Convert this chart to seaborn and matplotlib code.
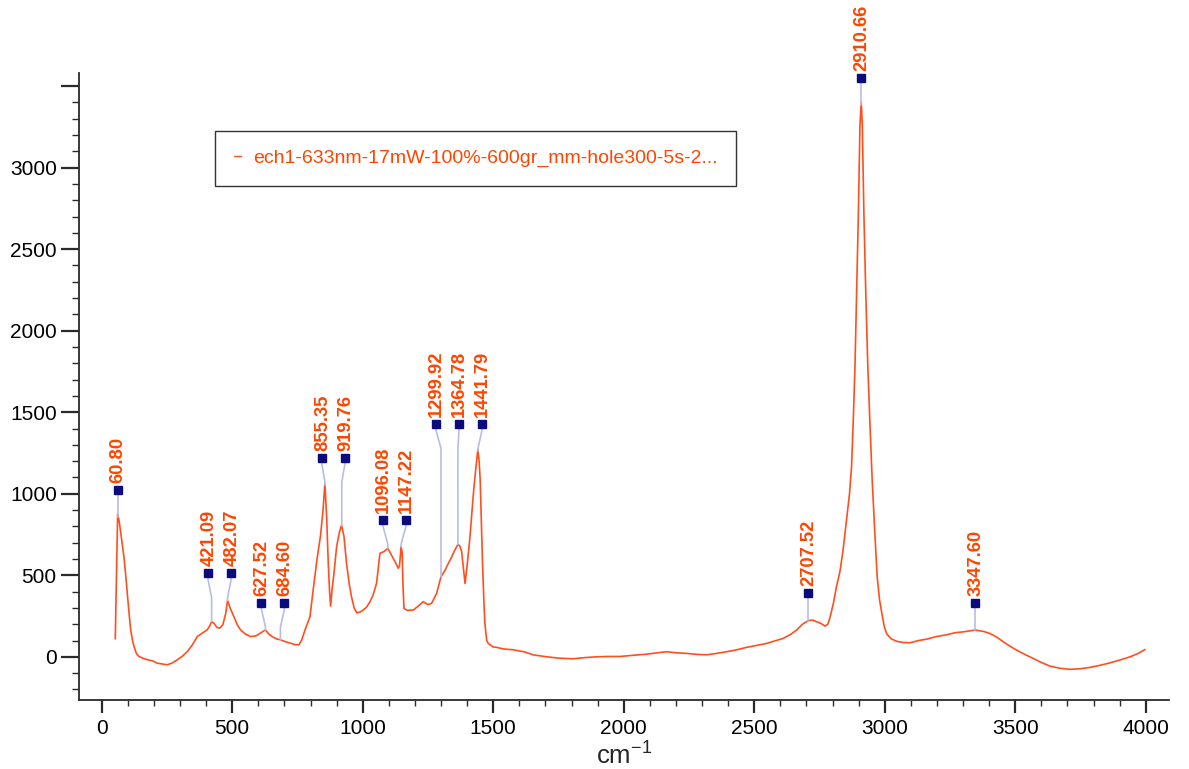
import numpy as np
import pandas as pd
import matplotlib
matplotlib.use("Agg")
import matplotlib.pyplot as plt
import seaborn as sns
from matplotlib import font_manager
from matplotlib.ticker import MultipleLocator, FixedLocator

# ---------------- data ----------------
wavenumber = [52, 61, 66, 73, 85, 92, 98, 104, 111, 118, 124, 133, 143, 160, 175, 195,
              213, 235, 251, 270, 290, 310, 328, 348, 366, 385, 404, 414, 421, 430,
              442, 452, 464, 475, 482, 492, 506, 520, 532, 550, 570, 590, 608, 627,
              640, 653, 670, 685, 705, 723, 740, 755, 766, 778, 787, 798, 810, 825,
              838, 848, 855, 862, 868, 873, 877, 883, 889, 900, 910, 919, 928, 938,
              948, 957, 967, 977, 990, 1002, 1015, 1028, 1040, 1053, 1066, 1081,
              1096, 1105, 1117, 1128, 1136, 1141, 1147, 1151, 1154, 1158, 1170, 1194,
              1212, 1232, 1250, 1264, 1283, 1300, 1315, 1328, 1340, 1353, 1365, 1372,
              1379, 1386, 1392, 1400, 1411, 1423, 1431, 1441, 1446, 1450, 1455, 1459,
              1464, 1468, 1475, 1481, 1500, 1513, 1540, 1577, 1620, 1653, 1705, 1750,
              1806, 1850, 1896, 1940, 1985, 2040, 2088, 2130, 2164, 2200, 2241, 2280,
              2318, 2360, 2394, 2430, 2471, 2510, 2547, 2580, 2611, 2640, 2662, 2685,
              2707, 2725, 2739, 2755, 2771, 2782, 2790, 2803, 2815, 2828, 2840, 2854,
              2865, 2873, 2880, 2886, 2893, 2899, 2905, 2910, 2914, 2920, 2927, 2935,
              2944, 2952, 2962, 2971, 2980, 2990, 2999, 3008, 3025, 3046, 3070, 3097,
              3130, 3160, 3200, 3237, 3270, 3301, 3347, 3380, 3403, 3430, 3454, 3480,
              3505, 3540, 3569, 3600, 3633, 3670, 3710, 3750, 3786, 3825, 3863, 3900,
              3940, 3970, 3997]
intensity = [110, 875, 840, 760, 615, 500, 390, 280, 165, 100, 63, 20, 2, -10, -18, -25,
             -39, -45, -49, -38, -18, 5, 32, 75, 124, 145, 165, 190, 216, 205,
             180, 176, 196, 265, 345, 300, 247, 195, 165, 140, 124, 128, 145, 165,
             140, 124, 110, 104, 92, 84, 75, 73, 102, 160, 200, 246, 409, 600,
             740, 900, 1064, 850, 573, 400, 311, 420, 500, 675, 760, 808, 740, 573,
             450, 368, 300, 270, 275, 287, 305, 338, 380, 451, 635, 645,
             665, 640, 604, 570, 543, 560, 675, 640, 450, 297, 285, 287,
             310, 338, 320, 328, 389, 491, 530, 573, 610, 655, 690, 680,
             645, 540, 450, 560, 737, 982, 1120, 1272, 1200, 1085, 800, 573,
             350, 205, 100, 82, 60, 58, 48, 43, 30, 12, 0, -8,
             -12, -5, 0, 2, 2, 10, 16, 25, 31, 25, 21, 15,
             12, 22, 31, 42, 58, 70, 82, 98, 113, 138, 164, 200,
             222, 225, 215, 205, 188, 200, 240, 327, 430, 520, 650, 844,
             1000, 1173, 1480, 1785, 2300, 2724, 3260, 3405, 3260, 2724, 2250, 1785,
             1400, 1078, 760, 491, 350, 256, 180, 139, 110, 95, 88, 86,
             100, 108, 125, 135, 148, 153, 164, 155, 143, 120, 92, 65,
             41, 12, -10, -35, -57, -70, -77, -73, -65, -52, -37, -20,
             0, 20, 45]

peak_positions = [60.80, 421.09, 482.07, 627.52, 684.60, 855.35, 919.76, 1096.08,
                  1147.22, 1299.92, 1364.78, 1441.79, 2707.52, 2910.66, 3347.60]
peak_groups = [0, 1, 1, 2, 2, 3, 3, 4, 4, 5, 5, 5, 6, 7, 8]

series_name = "ech1-633nm-17mW-100%-600gr_mm-hole300-5s-2..."
x_ticks = [0, 500, 1000, 1500, 2000, 2500, 3000, 3500, 4000]
y_ticks = [0, 500, 1000, 1500, 2000, 2500, 3000, 3500]
y_tick_labels = ["0", "500", "1000", "1500", "2000", "2500", "3000", ""]
x_label = "cm$^{-1}$"

# ---------------- style ----------------
sns.set_style("ticks")
plt.rcParams["font.family"] = ["Liberation Sans", "DejaVu Sans"]
plt.rcParams["mathtext.default"] = "regular"

try:
    font_manager.findfont(font_manager.FontProperties(family="Liberation Sans Narrow",
                                                      weight="bold"),
                          fallback_to_default=False)
    PEAK_FAMILY, PEAK_SIZE = ["Liberation Sans Narrow", "Liberation Sans"], 14
except Exception:
    PEAK_FAMILY, PEAK_SIZE = ["Liberation Sans", "DejaVu Sans"], 13.2

LINE_COLOR = "#ff4f1f"
TEXT_COLOR = "#ff4500"
CONN_COLOR = "#b9bde2"
MARK_COLOR = "#0b0b7e"
AXIS_COLOR = "#2a2a2a"

fig = plt.figure(figsize=(11.89, 7.69), dpi=100)
ax = fig.add_axes([79 / 1189, 0.0897, (1169 - 79) / 1189, 0.905 - 0.0897])

df = pd.DataFrame({"wavenumber": wavenumber, "intensity": intensity})
df["series"] = series_name
sns.lineplot(data=df, x="wavenumber", y="intensity", hue="series",
             palette=[LINE_COLOR], sort=False, estimator=None,
             linewidth=1.2, ax=ax)

ax.set_xlim(-87, 4089)
ax.set_ylim(-265, 3580)

# ---------------- peak annotations ----------------
peak_vals = np.interp(peak_positions, wavenumber, intensity)
groups = {}
for i, g in enumerate(peak_groups):
    groups.setdefault(g, []).append(i)
SPACING = 88
for g, idx in groups.items():
    center = np.mean([peak_positions[i] for i in idx])
    top = max(peak_vals[i] for i in idx)
    ly = top + 168
    n = len(idx)
    for k, i in enumerate(idx):
        px, py = peak_positions[i], peak_vals[i]
        lx = center + (k - (n - 1) / 2) * SPACING
        y1 = ly - 40
        y2 = max(ly - 150, py)
        ax.plot([lx, lx, px, px], [ly, y1, y2, py], color=CONN_COLOR,
                lw=1.2, clip_on=False, zorder=3)
        ax.plot([lx], [ly], marker="s", ms=5.2, color=MARK_COLOR,
                clip_on=False, zorder=5, linestyle="none")
        ax.annotate(f"{peak_positions[i]:.2f}", xy=(lx, ly), xytext=(0.5, 5),
                    textcoords="offset points", rotation=90, ha="center",
                    va="bottom", color=TEXT_COLOR, fontsize=PEAK_SIZE,
                    fontweight="bold", family=PEAK_FAMILY,
                    annotation_clip=False, zorder=6)

# ---------------- axes ----------------
ax.xaxis.set_major_locator(FixedLocator(x_ticks))
ax.xaxis.set_minor_locator(MultipleLocator(100))
ax.yaxis.set_major_locator(FixedLocator(y_ticks))
ax.yaxis.set_minor_locator(MultipleLocator(100))
ax.set_yticklabels(y_tick_labels)
ax.tick_params(axis="y", which="major", length=13, width=1.6, labelsize=15,
               pad=3, colors=AXIS_COLOR, labelcolor="black")
ax.tick_params(axis="y", which="minor", length=5, width=1.0, colors=AXIS_COLOR)
ax.tick_params(axis="x", which="major", length=9, width=1.6, labelsize=15,
               pad=5, colors=AXIS_COLOR, labelcolor="black")
ax.tick_params(axis="x", which="minor", length=4, width=1.0, colors=AXIS_COLOR)
for s in ["top", "right"]:
    ax.spines[s].set_visible(False)
for s in ["left", "bottom"]:
    ax.spines[s].set_linewidth(1.3)
    ax.spines[s].set_color(AXIS_COLOR)

ax.set_xlabel(x_label, fontsize=18.5, labelpad=3)
ax.set_ylabel("")

leg = ax.legend(loc="upper left", bbox_to_anchor=(0.1248, 0.9075),
                borderaxespad=0, frameon=True, fancybox=False, fontsize=14,
                handlelength=0.4, handletextpad=0.6, borderpad=0.95,
                edgecolor="#333333", framealpha=1)
leg.get_frame().set_linewidth(1.0)
for t in leg.get_texts():
    t.set_color(TEXT_COLOR)
for h in leg.get_lines():
    h.set_linewidth(1.0)

fig.savefig("out.png", dpi=100)
